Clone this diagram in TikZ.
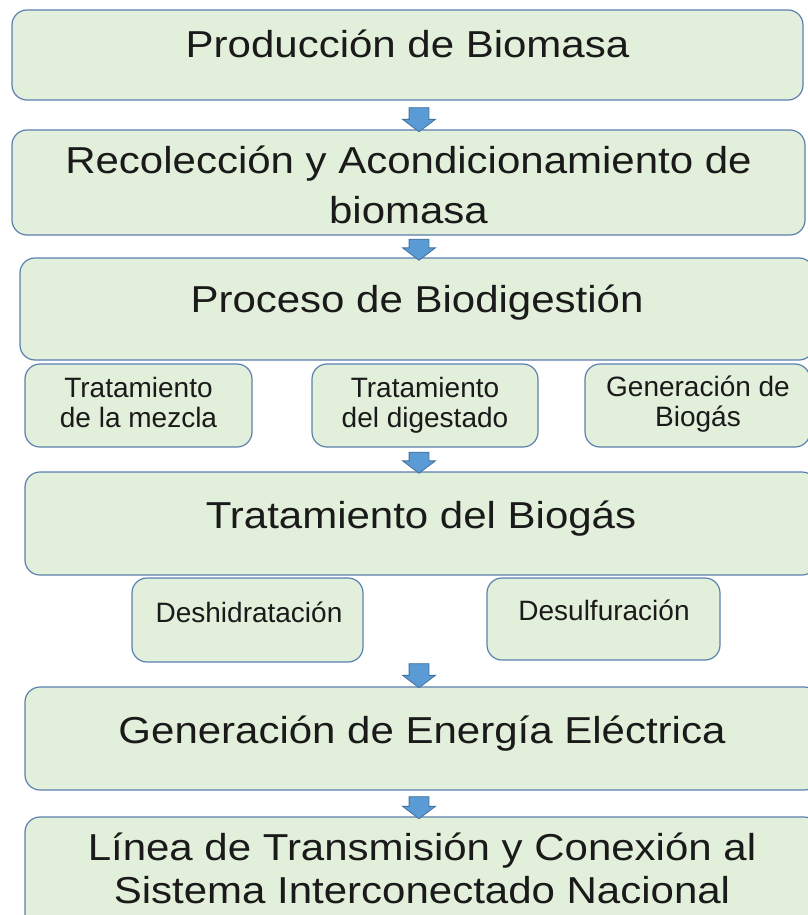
\documentclass[tikz,border=0pt]{standalone}
\usepackage{fontspec}
\setmainfont{Liberation Sans}
\newfontfamily\anchafont[FakeStretch=1.12]{Liberation Sans}
\usetikzlibrary{shapes.arrows}

\definecolor{cajaverde}{HTML}{E2EFDA}
\definecolor{bordeazul}{HTML}{5B80AE}
\definecolor{flechaazul}{HTML}{5B9BD5}
\definecolor{flechaborde}{HTML}{41719C}
\definecolor{textogris}{HTML}{1A1A1A}

\tikzset{
  caja/.style={draw=bordeazul, fill=cajaverde, rounded corners=15pt, line width=1.2pt, inner sep=0pt},
  grande/.style={font=\anchafont\fontsize{37.5}{50}\selectfont, text=textogris, anchor=base, align=center},
  chico/.style={font=\fontsize{28}{30}\selectfont, text=textogris, anchor=base, align=center},
  flecha/.style={single arrow, shape border rotate=270, draw=flechaborde, fill=flechaazul, line width=0.8pt,
    inner xsep=9.5pt, inner ysep=0pt, minimum height=24pt, single arrow head extend=6.5pt, single arrow tip angle=106}
}

\begin{document}
\begin{tikzpicture}[x=1pt, y=-1pt]
    \useasboundingbox (0,0) rectangle (807,915);

    % Etapas principales
    \node[caja, minimum width=791pt, minimum height=90pt] (produccion) at (407.5,55) {};
    \node[caja, minimum width=793pt, minimum height=105pt] (recoleccion) at (408.5,182.5) {};
    \node[caja, minimum width=794pt, minimum height=102pt] (biodigestion) at (417,309) {};
    \node[caja, minimum width=792pt, minimum height=103pt] (tratbiogas) at (421,523.5) {};
    \node[caja, minimum width=794pt, minimum height=103pt] (energia) at (422,738.5) {};
    \node[caja, minimum width=794pt, minimum height=118pt] (linea) at (422,876) {};

    % Subetapas de la biodigestion
    \node[caja, minimum width=227pt, minimum height=83pt] (mezcla) at (138.5,405.5) {};
    \node[caja, minimum width=226pt, minimum height=83pt] (digestado) at (425,405.5) {};
    \node[caja, minimum width=225pt, minimum height=83pt] (genbiogas) at (697.5,405.5) {};

    % Subetapas del tratamiento
    \node[caja, minimum width=231pt, minimum height=84pt] (deshidrata) at (247.5,620) {};
    \node[caja, minimum width=233pt, minimum height=82pt] (desulfura) at (603.5,619) {};

    % Flechas
    \node[flecha] (f1) at (419,116) {};
    \node[flecha, minimum height=21pt] (f2) at (419,246) {};
    \node[flecha, minimum height=21pt] (f3) at (419,459) {};
    \node[flecha] (f4) at (419,672) {};
    \node[flecha, minimum height=22pt] (f5) at (419,804) {};

    % Textos (base = linea de base de la ultima linea)
    \node[grande] (t-produccion) at (407.5,58) {Producción de Biomasa};
    \node[grande] (t-recoleccion) at (408.5,223) {Recolección y Acondicionamiento de\\biomasa};
    \node[grande] (t-biodigestion) at (417,312) {Proceso de Biodigestión};
    \node[grande] (t-tratbiogas) at (421,528) {Tratamiento del Biogás};
    \node[grande] (t-energia) at (422,743) {Generación de Energía Eléctrica};
    \node[grande, font=\anchafont\fontsize{37.5}{43}\selectfont] (t-linea) at (422,903) {Línea de Transmisión y Conexión al\\Sistema Interconectado Nacional};

    \node[chico] (t-mezcla) at (138.5,427) {Tratamiento\\de la mezcla};
    \node[chico] (t-digestado) at (425,427) {Tratamiento\\del digestado};
    \node[chico] (t-genbiogas) at (698,426) {Generación de\\Biogás};
    \node[chico] (t-deshidrata) at (249,622) {Deshidratación};
    \node[chico] (t-desulfura) at (604,620) {Desulfuración};
\end{tikzpicture}
\end{document}
